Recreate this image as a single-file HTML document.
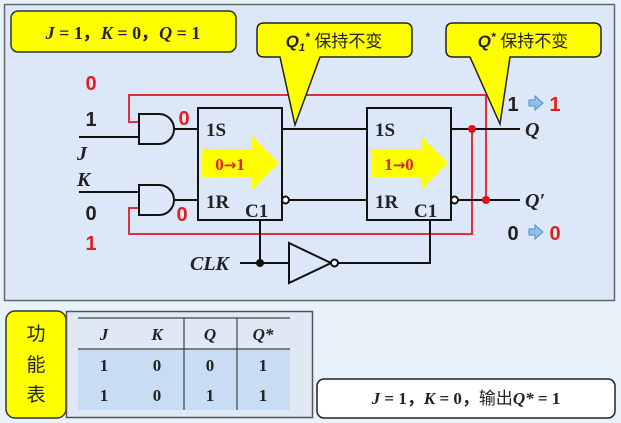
<!DOCTYPE html>
<html><head><meta charset="utf-8"><style>
body{margin:0;background:#e8f2fb;}
svg{display:block}
</style></head><body>
<svg width="621" height="423" viewBox="0 0 621 423" xmlns="http://www.w3.org/2000/svg">
<rect x="0" y="0" width="621" height="423" fill="#e8f2fb"/>
<rect x="4.5" y="4.5" width="610" height="296" fill="#dce8f7" stroke="#666" stroke-width="1.5"/>
<rect x="11" y="11" width="225" height="41" rx="7" fill="#ffff00" stroke="#333" stroke-width="1.5"/>
<text x="123" y="39" text-anchor="middle" font-family="Liberation Serif,serif" font-size="18" font-weight="bold" fill="#222"><tspan font-style="italic">J</tspan> = 1，<tspan font-style="italic">K</tspan> = 0，<tspan font-style="italic">Q</tspan> = 1</text>
<g fill="none" stroke="#e0303a" stroke-width="2">
<polyline points="139,122 129,122 129,95 486,95 486,200"/>
<polyline points="139,208 129,208 129,234 472,234 472,129"/>
</g>
<g fill="none" stroke="#111" stroke-width="2">
<line x1="79" y1="137" x2="139" y2="137"/>
<line x1="79" y1="192" x2="139" y2="192"/>
<path d="M139,114 H159 A15,15 0 0 1 159,144 H139 Z" fill="#dce8f7"/>
<path d="M139,185 H159 A15,15 0 0 1 159,215 H139 Z" fill="#dce8f7"/>
<line x1="174" y1="129" x2="198" y2="129"/>
<line x1="174" y1="200" x2="198" y2="200"/>
<rect x="198" y="108" width="84" height="112" fill="#dce8f7"/>
<line x1="282" y1="129" x2="367" y2="129"/>
<line x1="289" y1="200" x2="367" y2="200"/>
<circle cx="285.5" cy="200" r="3.5" fill="#fff"/>
<rect x="367" y="108" width="84" height="112" fill="#dce8f7"/>
<line x1="451" y1="129" x2="520" y2="129"/>
<line x1="458" y1="200" x2="520" y2="200"/>
<circle cx="454.5" cy="200" r="3.5" fill="#fff"/>
<line x1="240" y1="263" x2="289" y2="263"/>
<line x1="260" y1="263" x2="260" y2="220"/>
<path d="M289,243 L331,263 L289,283 Z" fill="#dce8f7"/>
<circle cx="334.5" cy="263" r="3.5" fill="#fff"/>
<polyline points="338,263 430,263 430,220"/>
</g>
<circle cx="260" cy="263" r="4" fill="#111"/>
<circle cx="472" cy="129" r="4" fill="#e0101a"/>
<circle cx="486" cy="200" r="4" fill="#e0101a"/>
<path d="M202,149 H252 V136 L279,163 L252,190 V177 H202 Z" fill="#ffff00"/>
<path d="M371,149 H421 V136 L448,163 L421,190 V177 H371 Z" fill="#ffff00"/>
<g font-family="Liberation Serif,serif" font-weight="bold">
<text x="230" y="170" text-anchor="middle" font-size="17" fill="#e02020">0<tspan font-family="DejaVu Sans,sans-serif" font-size="15">→</tspan>1</text>
<text x="399" y="170" text-anchor="middle" font-size="17" fill="#e02020">1<tspan font-family="DejaVu Sans,sans-serif" font-size="15">→</tspan>0</text>
<g font-size="19" fill="#222">
<text x="206" y="136">1S</text><text x="206" y="208">1R</text><text x="245" y="217">C1</text>
<text x="375" y="136">1S</text><text x="375" y="208">1R</text><text x="414" y="217">C1</text>
</g>
<g font-size="20" font-style="italic" fill="#222">
<text x="77" y="160">J</text>
<text x="77" y="186">K</text>
<text x="190" y="270">CLK</text>
<text x="525" y="136">Q</text>
<text x="525" y="207">Q′</text>
</g>
</g>
<g font-family="Liberation Sans,sans-serif" font-weight="bold" font-size="20">
<text x="91" y="90" text-anchor="middle" fill="#e02020">0</text>
<text x="91" y="126" text-anchor="middle" fill="#222">1</text>
<text x="91" y="220" text-anchor="middle" fill="#222">0</text>
<text x="91" y="250" text-anchor="middle" fill="#e02020">1</text>
<text x="184" y="125" text-anchor="middle" fill="#e02020">0</text>
<text x="182" y="221" text-anchor="middle" fill="#e02020">0</text>
<text x="513" y="111" text-anchor="middle" fill="#222">1</text>
<text x="555" y="111" text-anchor="middle" fill="#e02020">1</text>
<text x="513" y="240" text-anchor="middle" fill="#222">0</text>
<text x="555" y="240" text-anchor="middle" fill="#e02020">0</text>
</g>
<path d="M529,100 h6 v-4 l8,7 l-8,7 v-4 h-6 Z" fill="#8ec0ec" stroke="#5a8ec0" stroke-width="1"/>
<path d="M529,229 h6 v-4 l8,7 l-8,7 v-4 h-6 Z" fill="#8ec0ec" stroke="#5a8ec0" stroke-width="1"/>
<path d="M264,23 H405 Q412,23 412,30 V50 Q412,57 405,57 H320 L295,125 L280,57 H264 Q257,57 257,50 V30 Q257,23 264,23 Z" fill="#ffff00" stroke="#222" stroke-width="1.5"/>
<path d="M453,23 H594 Q601,23 601,30 V50 Q601,57 594,57 H510 L500,124 L470,57 H453 Q446,57 446,50 V30 Q446,23 453,23 Z" fill="#ffff00" stroke="#222" stroke-width="1.5"/>
<text x="334" y="47" text-anchor="middle" font-family="Liberation Sans,'Noto Sans CJK SC',sans-serif" font-size="17" fill="#222"><tspan font-weight="bold" font-style="italic">Q<tspan font-size="11" dy="4">1</tspan><tspan dy="-10" font-size="12">*</tspan></tspan><tspan dy="6"> 保持不变</tspan></text>
<text x="523" y="47" text-anchor="middle" font-family="Liberation Sans,'Noto Sans CJK SC',sans-serif" font-size="17" fill="#222"><tspan font-weight="bold" font-style="italic">Q<tspan dy="-6" font-size="12">*</tspan></tspan><tspan dy="6"> 保持不变</tspan></text>
<rect x="6" y="311" width="60" height="107" rx="9" fill="#ffff00" stroke="#333" stroke-width="1.5"/>
<g font-family="'Noto Sans CJK SC',sans-serif" font-size="19" fill="#222" text-anchor="middle">
<text x="36" y="340">功</text><text x="36" y="371">能</text><text x="36" y="401">表</text>
</g>
<rect x="66.5" y="311.5" width="246" height="106" fill="#e0e8f4" stroke="#555" stroke-width="1.5"/>
<rect x="78" y="349" width="212" height="61" fill="#c8dcf4"/>
<g stroke="#444" stroke-width="1.2">
<line x1="78" y1="318" x2="290" y2="318"/>
<line x1="78" y1="349" x2="290" y2="349"/>
<line x1="184" y1="318" x2="184" y2="410"/>
<line x1="237" y1="318" x2="237" y2="410"/>
</g>
<g font-family="Liberation Serif,serif" font-weight="bold" font-size="17" fill="#222" text-anchor="middle">
<g font-style="italic"><text x="104" y="340">J</text><text x="157" y="340">K</text><text x="210" y="340">Q</text><text x="263" y="340">Q*</text></g>
<text x="104" y="371">1</text><text x="157" y="371">0</text><text x="210" y="371">0</text><text x="263" y="371">1</text>
<text x="104" y="401">1</text><text x="157" y="401">0</text><text x="210" y="401">1</text><text x="263" y="401">1</text>
</g>
<rect x="317" y="379" width="298" height="39" rx="7" fill="#fff" stroke="#222" stroke-width="1.5"/>
<text x="466" y="404" text-anchor="middle" font-family="Liberation Serif,'Noto Sans CJK SC',serif" font-size="17" font-weight="bold" fill="#222"><tspan font-style="italic">J</tspan> = 1，<tspan font-style="italic">K</tspan> = 0，<tspan font-weight="normal">输出</tspan><tspan font-style="italic">Q*</tspan> = 1</text>
</svg>
</body></html>
